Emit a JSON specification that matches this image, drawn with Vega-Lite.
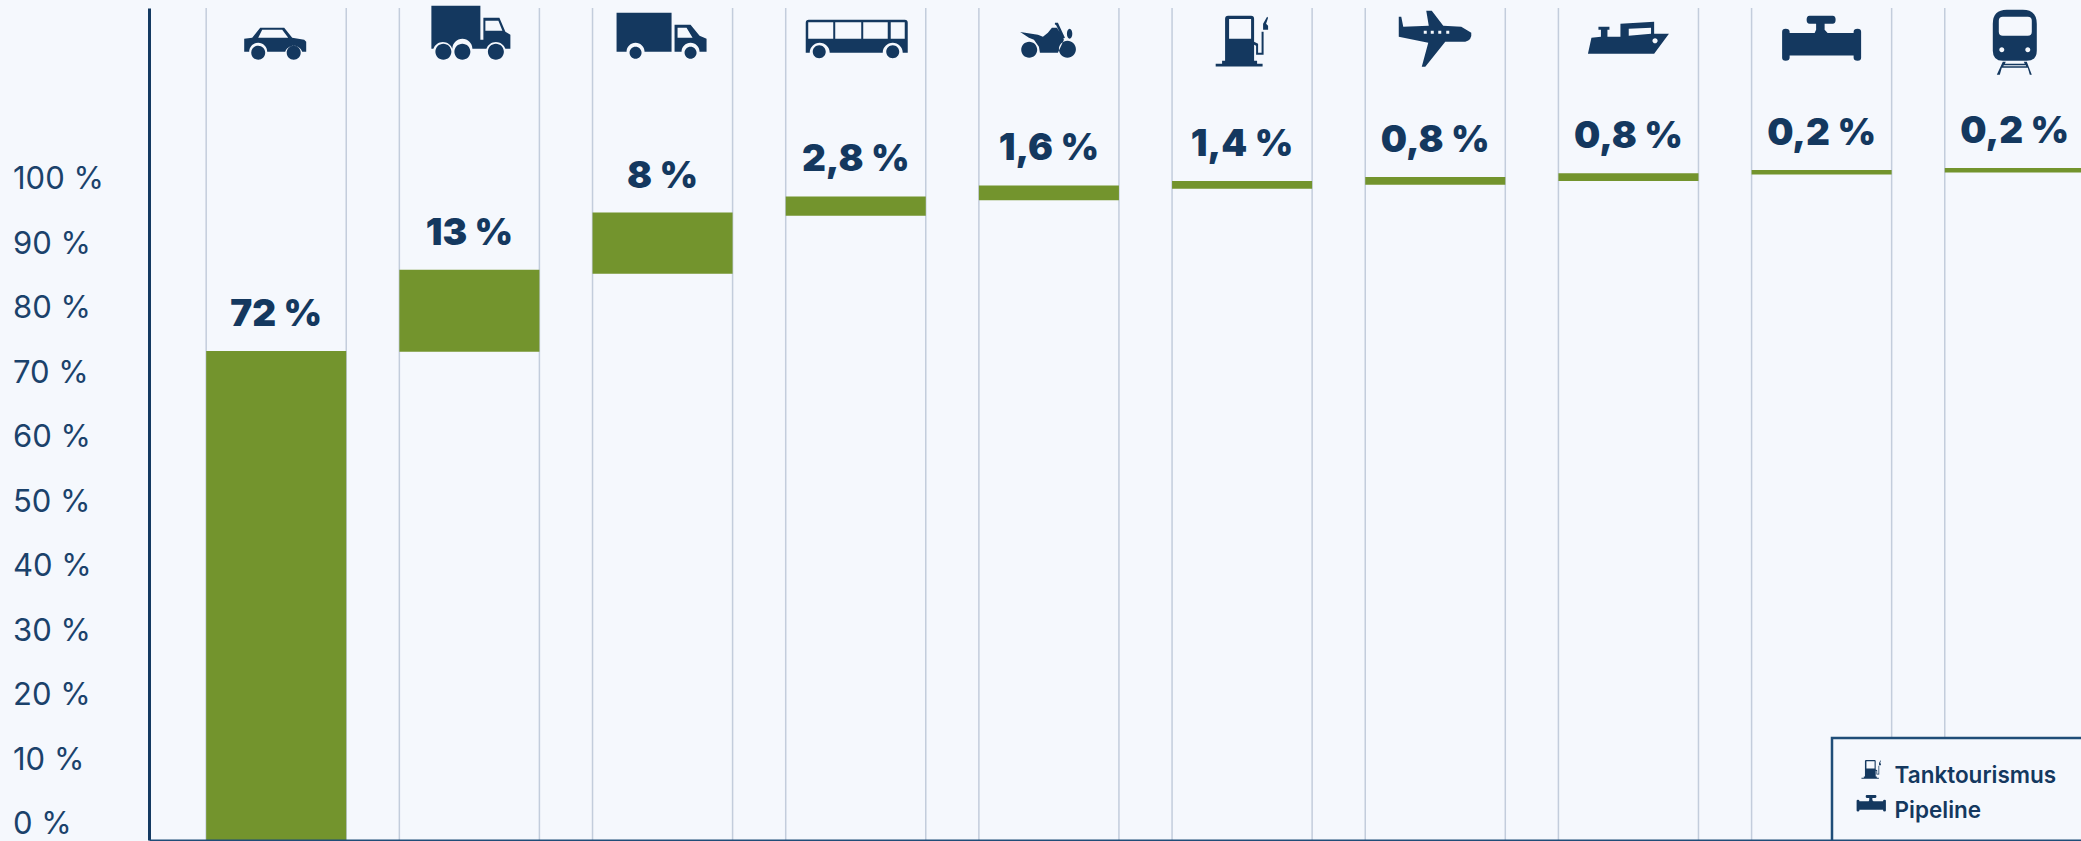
{"$schema":"https://vega.github.io/schema/vega-lite/v6.json","width":1932,"height":832,"autosize":{"type":"none"},"padding":{"left":149,"top":8,"right":0,"bottom":1},"background":"#f5f8fd","config":{"view":{"stroke":null},"legend":{"strokeWidth":2.5}},
"data":{"values":[
{"k":"Pkw","start":-2.56,"end":73.3,"label":"72 %"},
{"k":"Schwere Lkw","start":73.2,"end":85.9,"label":"13 %"},
{"k":"Leichte Lkw","start":85.3,"end":94.8,"label":"8 %"},
{"k":"Bus","start":94.3,"end":97.3,"label":"2,8 %"},
{"k":"Motorrad","start":96.7,"end":99.0,"label":"1,6 %"},
{"k":"Tanktourismus","start":98.5,"end":99.7,"label":"1,4 %"},
{"k":"Flugzeug","start":99.1,"end":100.3,"label":"0,8 %"},
{"k":"Schiff","start":99.7,"end":100.9,"label":"0,8 %"},
{"k":"Pipeline","start":100.7,"end":101.4,"label":"0,2 %"},
{"k":"Bahn","start":101.0,"end":101.7,"label":"0,2 %"}]},
"encoding":{"x":{"field":"k","type":"nominal","sort":null,"scale":{"type":"band","range":[0,1993],"paddingInner":0.275,"paddingOuter":0.296},"axis":{"title":null,"labels":false,"ticks":false,"grid":false,"domain":true,"domainColor":"#1f4d78","domainWidth":2,"zindex":1}}},
"layer":[
{"mark":{"type":"rule","stroke":"#c3cddc","strokeWidth":1.5,"clip":true},"encoding":{"x":{"field":"k","type":"nominal","sort":null,"bandPosition":0}}},
{"mark":{"type":"rule","stroke":"#c3cddc","strokeWidth":1.5,"clip":true},"encoding":{"x":{"field":"k","type":"nominal","sort":null,"bandPosition":1}}},
{"mark":{"type":"bar","fill":"#73942d","clip":true},"encoding":{
"y":{"field":"start","type":"quantitative","scale":{"domain":[-2.56,126.53],"nice":false,"zero":false},"axis":{"title":null,"values":[0,10,20,30,40,50,60,70,80,90,100],"labelExpr":"datum.value + ' %'","grid":false,"ticks":false,"domain":true,"domainColor":"#143a62","domainWidth":3,"labelAlign":"left","labelBaseline":"middle","labelPadding":136.5,"labelOffset":1,"labelFont":"Inter","labelFontSize":31,"labelFontWeight":400,"labelColor":"#1b426b","labelFlush":false,"labelOverlap":false,"labelBound":false}},
"y2":{"field":"end"}}},
{"mark":{"type":"text","font":"Inter","fontSize":37,"fontWeight":900,"color":"#14385f","baseline":"middle","align":"center","dy":-36},"encoding":{"y":{"field":"end","type":"quantitative"},"text":{"field":"label"}}},
{"mark":{"type":"point","filled":true,"opacity":1,"size":4,"color":"#14385f","strokeWidth":0},"encoding":{
"y":{"datum":118.5},
"shape":{"field":"k","type":"nominal","scale":{"domain":["Pkw","Schwere Lkw","Leichte Lkw","Bus","Motorrad","Tanktourismus","Flugzeug","Schiff","Pipeline","Bahn"],"range":[
"M-32,-21L-24,-22L-16,-32L8,-32L16,-22L28,-20L30,-18L30,-8L26,-8A9,9 0 0 0 9,-8L-9,-8A9,9 0 0 0 -27,-8L-32,-8ZM-18,-22L12,-22L6,-30L-14,-30ZM-25,-7a7,7 0 1 0 14,0a7,7 0 1 0 -14,0ZM10.5,-7a7,7 0 1 0 14,0a7,7 0 1 0 -14,0Z",
"M-38,-54L11,-54L11,-20L14,-20L14,-42L30,-42L36,-28L41,-25L41,-11L36,-11A10,10 0 0 0 17,-11L3,-11A10,10 0 0 0 -17,-11A10,10 0 0 0 -36,-11L-38,-11ZM16,-29L33,-29L29,-39L16,-39ZM-34,-8a8,8 0 1 0 16,0a8,8 0 1 0 -16,0ZM-15,-8a8,8 0 1 0 16,0a8,8 0 1 0 -16,0ZM18.5,-8a8,8 0 1 0 16,0a8,8 0 1 0 -16,0Z",
"M-46,-47L9,-47L9,-8L-18,-8A9,9 0 0 0 -36,-8L-46,-8ZM12,-35L28,-35L37,-24L44,-21L44,-8L37,-8A9,9 0 0 0 19,-8L12,-8ZM15,-22L30,-22L24,-32L15,-32ZM-33,-7a6,6 0 1 0 12,0a6,6 0 1 0 -12,0ZM22,-7a6,6 0 1 0 12,0a6,6 0 1 0 -12,0Z",
"M-50,-37Q-50,-40 -47,-40L49,-40Q52,-40 52,-37L52,-7L47,-7A10,10 0 0 0 27,-7L-26,-7A10,10 0 0 0 -46,-7L-50,-7ZM-47.5,-21L-22.5,-21L-22.5,-37.5L-47.5,-37.5ZM-20.5,-21L5.5,-21L5.5,-37.5L-20.5,-37.5ZM7.5,-21L32,-21L32,-37.5L7.5,-37.5ZM35,-21L49,-21L49,-37.5L35,-37.5ZM-43,-8a6.5,6.5 0 1 0 13,0a6.5,6.5 0 1 0 -13,0ZM30.5,-8a6.5,6.5 0 1 0 13,0a6.5,6.5 0 1 0 -13,0Z",
"M-28.7,-27.7L-11,-25L-6,-23L-1,-27L3,-32L8,-32L13,-24L15,-20L9,-7L-9,-7L-10,-13L-15,-20L-20,-22ZM6,-37L9,-37L16,-22L14,-21L7,-35L6,-35ZM-27.7,-10a8,8 0 1 0 16,0a8,8 0 1 0 -16,0ZM10,-10.5a8.5,8.5 0 1 0 17,0a8.5,8.5 0 1 0 -17,0ZM18,-26a2.7,5 0 1 0 5.4,0a2.7,5 0 1 0 -5.4,0Z",
"M-17,-41Q-17,-44 -14,-44L9,-44Q12,-44 12,-41L12,1L15,1L15,4L20.5,4L20.5,6.7L-26.4,6.7L-26.4,4L-20,4L-20,1L-17,1ZM-13,-21L9,-21L9,-40.7L-13,-40.7ZM12,-18L16,-16L16,-7L19.5,-7L19.5,-28L21.5,-28L21.5,-5L14,-5L14,-14L12,-15ZM21,-30L21,-36L25,-43L26,-42L24,-36L26,-34L26,-30Z",
"M-36.5,-43L-34,-43L-32,-33L-6.5,-34L-9,-49L-3.5,-49L8,-34L26,-33L36,-27Q37,-20 30,-18L10,-18L-10,7L-13.5,7L-7,-17L-36.5,-23ZM-11.5,-26L-8.5,-26L-8.5,-29L-11.5,-29ZM-4.5,-26L-1.5,-26L-1.5,-29L-4.5,-29ZM3,-26L6,-26L6,-29L3,-29ZM11,-26L14,-26L14,-29L11,-29Z",
"M-37,-22L-27.5,-23L-27.5,-30L-30,-30L-30,-33L-19,-33L-19,-30L-21,-30L-21,-23L-8,-23L-8,-36L25.7,-38L25.7,-26L40.5,-26L25.7,-6L-40.5,-6ZM0.3,-24L22.6,-26L22.6,-32L0.3,-31ZM24,-19a2.6,2.6 0 1 0 5.2,0a2.6,2.6 0 1 0 -5.2,0Z",
"M-39.5,-28Q-39.5,-31 -36,-31Q-32,-31 -32,-28L-32,-26.7L-7,-26.7L-5.5,-30L-5.5,-36L-12,-36Q-15,-36 -15,-40Q-15,-44 -12,-44L11,-44Q14,-44 14,-40Q14,-36 11,-36L3,-36L3,-30L6,-26.7L32,-26.7L32,-28Q32,-31 36,-31Q39.5,-31 39.5,-28L39.5,-2Q39.5,1 36,1Q32,1 32,-2L32,-4.3L-32,-4.3L-32,-2Q-32,1 -36,1Q-39.5,1 -39.5,-2Z",
"M-22,-36Q-22,-50 -8,-50L8,-50Q22,-50 22,-36L22,-9Q22,1 12,1L-12,1Q-22,1 -22,-9ZM-12,-24L13,-24Q17,-24 17,-28L17,-39Q17,-43 13,-43L-12,-43Q-16,-43 -16,-39L-16,-28Q-16,-24 -12,-24ZM-15.5,-10a2.5,2.5 0 1 0 5,0a2.5,2.5 0 1 0 -5,0ZM10.5,-10a2.5,2.5 0 1 0 5,0a2.5,2.5 0 1 0 -5,0ZM-12,2L-9,2L-10,4L10,4L9,2L12,2L17,15L15,15L13,8L-13,8L-15,15L-18,15ZM-11,5.5L-11.5,6.5L11.5,6.5L11,5.5Z"
]},
"legend":{"values":["Tanktourismus","Pipeline"],"title":null,"orient":"none","legendX":1683,"legendY":730,"padding":27,"strokeColor":"#1f4d78","fillColor":"#f5f8fd","symbolSize":0.55,"symbolFillColor":"#14385f","symbolStrokeWidth":0,"symbolOffset":1,"labelOffset":12,"labelLimit":400,"labelFont":"Inter","labelFontSize":22.5,"labelFontWeight":600,"labelColor":"#14385f","rowPadding":6}}}}
]}
